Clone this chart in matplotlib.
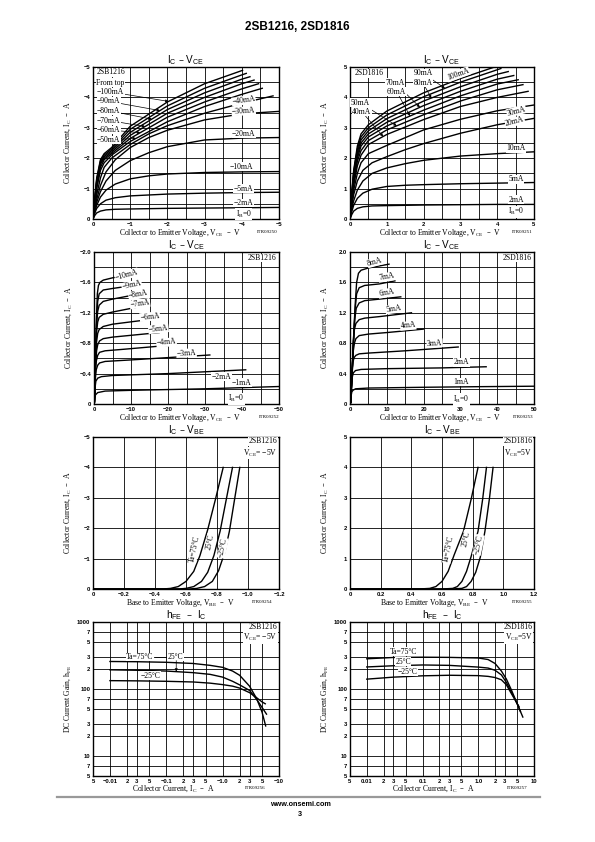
import numpy as np
import matplotlib.pyplot as plt
from matplotlib.lines import Line2D

# ---------------- data ----------------
# magnitudes are stored; the 2SB1216 (PNP) panels are drawn negative

# 2SB1216  Ic - Vce, Ib = 2 ... 100 mA
p1_ib = ['2', '5', '10', '20', '30', '40', '50', '60', '70', '80', '90', '100']
p1_v = [
    [0, 0.05, 0.1, 0.2, 0.35, 0.6, 1, 2, 3, 4, 5],
    [0, 0.05, 0.1, 0.2, 0.35, 0.6, 1, 2, 3, 4, 5],
    [0, 0.05, 0.1, 0.2, 0.35, 0.6, 1, 1.5, 2, 3, 4, 5],
    [0, 0.05, 0.1, 0.2, 0.35, 0.6, 1, 1.5, 2, 3, 4, 5],
    [0, 0.05, 0.1, 0.2, 0.35, 0.6, 1, 1.5, 2, 3, 4, 5],
    [0, 0.05, 0.1, 0.2, 0.3, 0.5, 1, 1.5, 2, 3, 4, 4.84],
    [0, 0.05, 0.1, 0.2, 0.3, 0.5, 1, 2, 3, 4, 4.55],
    [0, 0.05, 0.1, 0.2, 0.3, 0.5, 1, 2, 3, 4, 4.45],
    [0, 0.05, 0.1, 0.2, 0.3, 0.5, 1, 2, 3, 4, 4.33],
    [0, 0.05, 0.1, 0.2, 0.3, 0.5, 1, 2, 3, 4, 4.22],
    [0, 0.05, 0.1, 0.2, 0.3, 0.5, 1, 2, 3, 4, 4.12],
    [0, 0.05, 0.1, 0.2, 0.3, 0.5, 1, 2, 3, 4.02],
]
p1_i = [
    [0, 0.12, 0.2, 0.26, 0.3, 0.32, 0.33, 0.35, 0.36, 0.37, 0.38],
    [0, 0.2, 0.35, 0.5, 0.62, 0.7, 0.76, 0.82, 0.85, 0.87, 0.88],
    [0, 0.25, 0.45, 0.72, 0.95, 1.15, 1.32, 1.42, 1.48, 1.53, 1.55, 1.56],
    [0, 0.3, 0.55, 0.9, 1.25, 1.6, 1.92, 2.18, 2.38, 2.6, 2.66, 2.68],
    [0, 0.35, 0.65, 1.1, 1.55, 1.95, 2.35, 2.68, 2.92, 3.26, 3.46, 3.54],
    [0, 0.4, 0.8, 1.35, 1.7, 2.0, 2.45, 2.8, 3.07, 3.48, 3.81, 4.05],
    [0, 0.5, 1.0, 1.6, 1.85, 2.1, 2.55, 3.2, 3.7, 4.1, 4.3],
    [0, 0.55, 1.1, 1.7, 1.95, 2.15, 2.65, 3.35, 3.85, 4.28, 4.45],
    [0, 0.6, 1.2, 1.8, 2.0, 2.2, 2.75, 3.48, 4.0, 4.45, 4.57],
    [0, 0.65, 1.25, 1.85, 2.05, 2.25, 2.85, 3.6, 4.15, 4.6, 4.68],
    [0, 0.7, 1.3, 1.9, 2.1, 2.3, 2.95, 3.72, 4.3, 4.74, 4.79],
    [0, 0.75, 1.35, 1.95, 2.15, 2.35, 3.05, 3.85, 4.45, 4.89],
]

# 2SD1816  Ic - Vce, Ib = 2 ... 100 mA
p2_ib = ['2', '5', '10', '20', '30', '40', '50', '60', '70', '80', '90', '100']
p2_v = [
    [0, 0.05, 0.1, 0.2, 0.35, 0.6, 1, 2, 3, 4, 5],
    [0, 0.05, 0.1, 0.2, 0.35, 0.6, 1, 1.5, 2, 3, 4, 5],
    [0, 0.05, 0.1, 0.2, 0.35, 0.6, 1, 1.5, 2, 3, 4, 5],
    [0, 0.05, 0.1, 0.2, 0.35, 0.6, 1, 1.5, 2, 3, 4, 5],
    [0, 0.05, 0.1, 0.2, 0.3, 0.5, 1, 2, 3, 4, 5],
    [0, 0.05, 0.1, 0.2, 0.3, 0.5, 1, 2, 3, 4, 4.84],
    [0, 0.05, 0.1, 0.2, 0.3, 0.5, 1, 2, 3, 4, 4.7],
    [0, 0.05, 0.1, 0.2, 0.3, 0.5, 1, 2, 3, 4, 4.57],
    [0, 0.05, 0.1, 0.2, 0.3, 0.5, 1, 2, 3, 4, 4.45],
    [0, 0.05, 0.1, 0.2, 0.3, 0.5, 1, 2, 3, 4, 4.3],
    [0, 0.05, 0.1, 0.2, 0.3, 0.5, 1, 2, 3, 4.1],
    [0, 0.05, 0.1, 0.2, 0.3, 0.5, 1, 2, 3, 3.93],
]
p2_i = [
    [0, 0.15, 0.26, 0.35, 0.4, 0.43, 0.44, 0.46, 0.47, 0.48, 0.48],
    [0, 0.25, 0.45, 0.68, 0.85, 0.98, 1.07, 1.11, 1.13, 1.16, 1.18, 1.2],
    [0, 0.35, 0.6, 0.95, 1.25, 1.5, 1.68, 1.82, 1.93, 2.07, 2.15, 2.21],
    [0, 0.45, 0.8, 1.25, 1.6, 1.85, 2.05, 2.28, 2.48, 2.82, 3.1, 3.31],
    [0, 0.5, 0.95, 1.5, 1.85, 2.15, 2.42, 2.93, 3.28, 3.56, 3.75],
    [0, 0.6, 1.1, 1.75, 2.1, 2.45, 2.78, 3.27, 3.7, 4.0, 4.2],
    [0, 0.65, 1.2, 1.9, 2.25, 2.58, 2.93, 3.43, 3.88, 4.25, 4.42],
    [0, 0.7, 1.3, 2.0, 2.4, 2.7, 3.06, 3.58, 4.05, 4.44, 4.58],
    [0, 0.75, 1.4, 2.1, 2.5, 2.8, 3.18, 3.73, 4.2, 4.6, 4.72],
    [0, 0.8, 1.5, 2.2, 2.6, 2.9, 3.3, 3.88, 4.35, 4.76, 4.85],
    [0, 0.85, 1.55, 2.3, 2.7, 3.0, 3.42, 4.02, 4.5, 4.95],
    [0, 0.9, 1.6, 2.4, 2.8, 3.1, 3.55, 4.15, 4.62, 5.0],
]

# 2SB1216  Ic - Vce (0..50 V), Ib = 1 ... 10 mA
p3_ib = ['1', '2', '3', '4', '5', '6', '7', '8', '9', '10']
p3_v = [
    [0, 0.1, 0.2, 0.4, 1.0, 3, 10, 30, 50],
    [0, 0.1, 0.25, 0.5, 1.0, 2, 5, 20, 41],
    [0, 0.1, 0.3, 0.6, 1.0, 1.5, 3, 10, 31.3],
    [0, 0.1, 0.35, 0.6, 1.0, 1.5, 3, 8, 22.1],
    [0, 0.1, 0.4, 0.7, 1.0, 1.5, 2.5, 5, 17.6],
    [0, 0.1, 0.4, 0.7, 1.0, 1.4, 2.5, 5, 14.7],
    [0, 0.1, 0.4, 0.7, 1.0, 1.4, 2.5, 5, 13.3],
    [0, 0.1, 0.4, 0.7, 1.0, 1.4, 2.5, 5, 12.4],
    [0, 0.1, 0.4, 0.7, 1.0, 1.4, 2.5, 5, 12.0],
    [0, 0.1, 0.4, 0.7, 0.9, 1.2, 1.6, 2.5, 5, 11.5],
]
p3_i = [
    [0, 0.02, 0.08, 0.12, 0.15, 0.17, 0.18, 0.2, 0.23],
    [0, 0.02, 0.2, 0.3, 0.34, 0.36, 0.375, 0.4, 0.45],
    [0, 0.02, 0.3, 0.45, 0.51, 0.54, 0.56, 0.58, 0.645],
    [0, 0.02, 0.4, 0.56, 0.64, 0.68, 0.7, 0.72, 0.78],
    [0, 0.02, 0.5, 0.7, 0.78, 0.83, 0.86, 0.88, 0.94],
    [0, 0.02, 0.55, 0.82, 0.93, 0.98, 1.02, 1.05, 1.11],
    [0, 0.02, 0.6, 0.95, 1.08, 1.14, 1.18, 1.21, 1.29],
    [0, 0.02, 0.6, 1.05, 1.22, 1.3, 1.35, 1.38, 1.45],
    [0, 0.02, 0.6, 1.15, 1.35, 1.45, 1.5, 1.52, 1.57],
    [0, 0.02, 0.6, 1.15, 1.45, 1.56, 1.6, 1.63, 1.66, 1.72],
]

# 2SD1816  Ic - Vce (0..50 V), Ib = 1 ... 8 mA
p4_ib = ['1', '2', '3', '4', '5', '6', '7', '8']
p4_v = [
    [0, 0.2, 0.35, 0.5, 0.8, 1.5, 5, 20, 35, 50],
    [0, 0.2, 0.4, 0.6, 0.9, 1.5, 3, 10, 25, 37],
    [0, 0.2, 0.5, 0.8, 1.1, 1.6, 2.5, 5, 15, 29.4],
    [0, 0.2, 0.6, 0.9, 1.2, 1.6, 2.5, 5, 10, 19.9],
    [0, 0.2, 0.6, 0.9, 1.2, 1.6, 2.5, 4, 8, 16.7],
    [0, 0.2, 0.6, 1.0, 1.3, 1.7, 2.5, 4, 8, 13.8],
    [0, 0.2, 0.6, 1.0, 1.4, 1.8, 2.5, 4, 8, 12.2],
    [0, 0.2, 0.6, 1.0, 1.4, 1.8, 2.3, 3, 5, 10.6],
]
p4_i = [
    [0, 0.02, 0.12, 0.16, 0.18, 0.2, 0.21, 0.22, 0.228, 0.234],
    [0, 0.02, 0.22, 0.35, 0.41, 0.44, 0.455, 0.465, 0.475, 0.49],
    [0, 0.02, 0.35, 0.55, 0.61, 0.64, 0.66, 0.67, 0.7, 0.75],
    [0, 0.02, 0.45, 0.7, 0.8, 0.86, 0.9, 0.92, 0.94, 0.985],
    [0, 0.02, 0.45, 0.8, 0.98, 1.06, 1.11, 1.13, 1.15, 1.2],
    [0, 0.02, 0.45, 0.88, 1.12, 1.26, 1.33, 1.36, 1.38, 1.41],
    [0, 0.02, 0.45, 0.9, 1.25, 1.45, 1.53, 1.56, 1.58, 1.62],
    [0, 0.02, 0.45, 0.9, 1.3, 1.6, 1.72, 1.76, 1.79, 1.84],
]

# Ic - Vbe, Ta = 75, 25, -25 C
temps = ['75', '25', '-25']
p5_v = [
    [0, 0.45, 0.5, 0.55, 0.6, 0.65, 0.69, 0.74, 0.79, 0.84],
    [0, 0.55, 0.6, 0.65, 0.7, 0.74, 0.78, 0.82, 0.86, 0.9],
    [0, 0.62, 0.67, 0.72, 0.77, 0.81, 0.85, 0.88, 0.915, 0.947],
]
p5_i = [
    [0, 0, 0.02, 0.08, 0.25, 0.58, 1.1, 1.95, 2.95, 4.0],
    [0, 0, 0.02, 0.08, 0.25, 0.55, 1.1, 1.9, 2.95, 4.0],
    [0, 0, 0.02, 0.08, 0.25, 0.6, 1.2, 1.9, 3.0, 4.0],
]
p6_v = [
    [0, 0.45, 0.52, 0.56, 0.6, 0.64, 0.68, 0.74, 0.79, 0.835],
    [0, 0.6, 0.67, 0.7, 0.73, 0.76, 0.79, 0.835, 0.865, 0.89],
    [0, 0.66, 0.73, 0.76, 0.79, 0.82, 0.85, 0.88, 0.91, 0.933],
]
p6_i = [
    [0, 0, 0.02, 0.08, 0.25, 0.58, 1.13, 1.9, 2.95, 4.0],
    [0, 0, 0.02, 0.08, 0.25, 0.58, 1.07, 1.9, 2.95, 4.0],
    [0, 0, 0.02, 0.08, 0.25, 0.55, 1.05, 1.9, 3.0, 4.0],
]

# hFE - Ic
p7_ic = [
    [0.01, 0.03, 0.1, 0.3, 0.6, 1.0, 1.5, 2.0, 3.0, 4.0, 5.0, 5.8],
    [0.01, 0.03, 0.1, 0.3, 0.6, 1.0, 1.5, 2.0, 3.0, 4.0, 5.0, 6.0],
    [0.01, 0.03, 0.1, 0.3, 0.6, 1.0, 1.5, 2.0, 3.0, 4.0, 5.0, 5.7],
]
p7_h = [
    [257, 255, 250, 240, 225, 210, 185, 160, 110, 72, 45, 28],
    [193, 190, 185, 175, 165, 150, 130, 115, 95, 70, 53, 42],
    [133, 132, 130, 127, 122, 116, 110, 103, 88, 74, 64, 60],
]
p8_ic = [
    [0.01, 0.03, 0.1, 0.3, 1.0, 1.5, 2.0, 2.6, 3.2, 3.9, 4.8, 5.7],
    [0.01, 0.03, 0.1, 0.3, 1.0, 1.5, 2.0, 2.6, 3.2, 3.9, 5.0, 6.3],
    [0.01, 0.03, 0.1, 0.3, 1.0, 1.5, 2.0, 2.6, 3.2, 3.9, 4.6, 5.4],
]
p8_h = [
    [282, 295, 298, 296, 290, 275, 240, 185, 140, 98, 65, 46],
    [213, 222, 228, 225, 212, 205, 190, 162, 125, 91, 60, 38],
    [140, 150, 157, 160, 158, 154, 148, 137, 115, 86, 68, 54],
]

log_ticks = [0.005, 0.01, 0.02, 0.03, 0.05, 0.1, 0.2, 0.3, 0.5, 1, 2, 3, 5, 10]
log_ticklabels_b = ['5', '−0.01', '2', '3', '5', '−0.1', '2', '3', '5', '−1.0', '2', '3', '5', '−10']
log_ticklabels_d = ['5', '0.01', '2', '3', '5', '0.1', '2', '3', '5', '1.0', '2', '3', '5', '10']
hfe_ticks = [5, 7, 10, 20, 30, 50, 70, 100, 200, 300, 500, 700, 1000]
hfe_ticklabels = ['5', '7', '10', '2', '3', '5', '7', '100', '2', '3', '5', '7', '1000']

# ---------------- drawing ----------------
W, H = 595, 842
SERIF = 'Liberation Serif'
SANS = 'Liberation Sans'
plt.rcParams['font.family'] = SANS

fig = plt.figure(figsize=(W / 100, H / 100), dpi=100)


def px_axes(l, t, r, b):
    return fig.add_axes([l / W, 1 - b / H, (r - l) / W, (b - t) / H])


def ftext(x, y, s, **kw):
    fig.text(x / W, 1 - y / H, s, **kw)


WB = dict(boxstyle='square,pad=0.05', fc='white', ec='none')


def note(ax, x, y, s, **kw):
    kw.setdefault('ha', 'center')
    kw.setdefault('va', 'center')
    ax.text(x, y, s, fontsize=5.5, family=SERIF, bbox=WB, **kw)


def frame(ax, title, xt, xl, yt, yl, xm=(), ym=()):
    ax.set_xticks(xt, xl)
    ax.set_yticks(yt, yl)
    ax.set_xticks(list(xm), minor=True)
    ax.set_yticks(list(ym), minor=True)
    ax.set_xlim(xt[0], xt[-1])
    ax.set_ylim(yt[0], yt[-1])
    ax.grid(True, which='both', color='black', lw=0.6)
    ax.tick_params(which='both', length=0, labelsize=4.2, pad=2)
    for lab in ax.get_xticklabels() + ax.get_yticklabels():
        lab.set_fontweight('bold')
    for s in ax.spines.values():
        s.set_linewidth(1.0)
    ax.set_title(title, fontsize=7.2, family=SANS, pad=1.5)


def ylab(ax, s):
    ax.set_ylabel(s, fontsize=5.5, family=SERIF)
    ax.yaxis.set_label_coords(-0.108, 0.5)


t_ice = r'I$_\mathregular{C}$ – V$_\mathregular{CE}$'
t_ibe = r'I$_\mathregular{C}$ – V$_\mathregular{BE}$'
t_hfe = r'h$_\mathregular{FE}$  –  I$_\mathregular{C}$'
lab_ic = r'Collector Current, I$_\mathregular{C}$  –  A'
lab_vce = r'Collector to Emitter Voltage, V$_\mathregular{CE}$  –  V'
lab_vbe = r'Base to Emitter Voltage, V$_\mathregular{BE}$  –  V'
lab_icx = r'Collector Current, I$_\mathregular{C}$  –  A'
lab_hfe = r'DC Current Gain, h$_\mathregular{FE}$'
ib0 = r'I$_\mathregular{B}$=0'
CL = dict(color='black', lw=1.0)
ARW = dict(arrowstyle='-|>', lw=0.5, color='black', mutation_scale=4,
           shrinkA=0, shrinkB=0)

# ---- panel 1 : 2SB1216 Ic-Vce ----
ax = px_axes(93, 67, 279, 219)
for v, i in zip(p1_v, p1_i):
    ax.plot(-np.array(v), -np.array(i), **CL)
frame(ax, t_ice, [0, -1, -2, -3, -4, -5], ['0', '−1', '−2', '−3', '−4', '−5'],
      [0, -1, -2, -3, -4, -5], ['0', '−1', '−2', '−3', '−4', '−5'],
      [-0.5, -1.5, -2.5, -3.5, -4.5], [-0.5, -1.5, -2.5, -3.5, -4.5])
ylab(ax, lab_ic)
note(ax, -0.09, -4.82, '2SB1216', ha='left')
note(ax, -0.09, -4.49, 'From top', ha='left')
for k, (ty, tx) in enumerate([(4.18, 2.03), (3.87, 1.8), (3.56, 1.58),
                              (3.24, 1.4), (2.93, 1.27), (2.6, 1.16)]):
    n = len(p1_ib) - 1 - k
    ax.annotate('−' + p1_ib[n] + 'mA', xy=(-tx, -np.interp(tx, p1_v[n], p1_i[n])),
                xytext=(-0.11, -ty), ha='left', va='center', fontsize=5.5,
                family=SERIF, bbox=WB, arrowprops=ARW)
note(ax, -4.05, -3.9, '−40mA', rotation=8)
note(ax, -4.05, -3.55, '−30mA', rotation=4)
note(ax, -4.05, -2.8, '−20mA')
note(ax, -4.0, -1.72, '−10mA')
note(ax, -4.05, -1.0, '−5mA')
note(ax, -4.05, -0.53, '−2mA')
note(ax, -4.05, -0.17, ib0)

# ---- panel 2 : 2SD1816 Ic-Vce ----
ax = px_axes(350, 67, 534, 219)
for v, i in zip(p2_v, p2_i):
    ax.plot(v, i, **CL)
frame(ax, t_ice, [0, 1, 2, 3, 4, 5], ['0', '1', '2', '3', '4', '5'],
      [0, 1, 2, 3, 4, 5], ['0', '1', '2', '3', '4', '5'],
      [0.5, 1.5, 2.5, 3.5, 4.5], [0.5, 1.5, 2.5, 3.5, 4.5])
ylab(ax, lab_ic)
note(ax, 0.12, 4.79, '2SD1816', ha='left')
for n, (x0, y0, tx) in zip([10, 8, 9, 7, 6, 5],
                           [(1.99, 4.79, 2.58), (1.22, 4.48, 1.9), (1.98, 4.48, 2.21),
                            (1.27, 4.19, 1.63), (0.27, 3.83, 1.27), (0.32, 3.53, 0.9)]):
    ax.annotate(p2_ib[n] + 'mA', xy=(tx, np.interp(tx, p2_v[n], p2_i[n])),
                xytext=(x0, y0), ha='center', va='center', fontsize=5.5,
                family=SERIF, bbox=WB, arrowprops=ARW)
note(ax, 2.94, 4.76, '100mA', rotation=20)
note(ax, 4.52, 3.55, '30mA', rotation=15)
note(ax, 4.48, 3.2, '20mA', rotation=15)
note(ax, 4.52, 2.33, '10mA')
note(ax, 4.52, 1.3, '5mA')
note(ax, 4.52, 0.63, '2mA')
note(ax, 4.52, 0.24, ib0)

# ---- panel 3 : 2SB1216 Ic-Vce 50 V ----
ax = px_axes(94, 252, 279, 404)
for v, i in zip(p3_v, p3_i):
    ax.plot(-np.array(v), -np.array(i), **CL)
frame(ax, t_ice, [0, -10, -20, -30, -40, -50], ['0', '−10', '−20', '−30', '−40', '−50'],
      [0, -0.4, -0.8, -1.2, -1.6, -2.0], ['0', '−0.4', '−0.8', '−1.2', '−1.6', '−2.0'],
      [-5, -15, -25, -35, -45], [-0.2, -0.6, -1.0, -1.4, -1.8])
ylab(ax, lab_ic)
note(ax, -49.3, -1.92, '2SB1216', ha='right')
for (x, y, r), n in zip([(8.8, 1.7, 15), (10.2, 1.56, 12), (12.0, 1.44, 10),
                         (12.4, 1.32, 8), (15.1, 1.15, 6), (17.4, 0.99, 6),
                         (19.6, 0.81, 5), (25.0, 0.67, 3), (34.4, 0.36, 0),
                         (39.8, 0.28, 0)], range(9, -1, -1)):
    note(ax, -x, -y, '−' + p3_ib[n] + 'mA', rotation=r)
note(ax, -38.5, -0.07, ib0)

# ---- panel 4 : 2SD1816 Ic-Vce 50 V ----
ax = px_axes(350, 252, 534, 404)
for v, i in zip(p4_v, p4_i):
    ax.plot(v, i, **CL)
frame(ax, t_ice, [0, 10, 20, 30, 40, 50], ['0', '10', '20', '30', '40', '50'],
      [0, 0.4, 0.8, 1.2, 1.6, 2.0], ['0', '0.4', '0.8', '1.2', '1.6', '2.0'],
      [5, 15, 25, 35, 45], [0.2, 0.6, 1.0, 1.4, 1.8])
ylab(ax, lab_ic)
note(ax, 49.3, 1.92, '2SD1816', ha='right')
for (x, y, r), n in zip([(6.8, 1.87, 15), (9.9, 1.67, 10), (9.9, 1.46, 10),
                         (11.8, 1.25, 8), (15.8, 1.03, 5), (23.0, 0.8, 3),
                         (30.3, 0.55, 0), (30.3, 0.29, 0)], range(7, -1, -1)):
    note(ax, x, y, p4_ib[n] + 'mA', rotation=r)
note(ax, 30.3, 0.06, ib0)

# ---- panel 5 : 2SB1216 Ic-Vbe ----
ax = px_axes(93, 437, 279, 589)
for v, i in zip(p5_v, p5_i):
    ax.plot(-np.array(v), -np.array(i), **CL)
frame(ax, t_ibe, [0, -0.2, -0.4, -0.6, -0.8, -1.0, -1.2],
      ['0', '−0.2', '−0.4', '−0.6', '−0.8', '−1.0', '−1.2'],
      [0, -1, -2, -3, -4, -5], ['0', '−1', '−2', '−3', '−4', '−5'])
ylab(ax, lab_ic)
note(ax, -1.19, -4.86, '2SB1216', ha='right')
note(ax, -1.19, -4.47, r'V$_\mathregular{CE}$= −5V', ha='right')
note(ax, -0.655, -1.3, 'Ta=75°C', rotation=78)
note(ax, -0.755, -1.55, '25°C', rotation=78)
note(ax, -0.835, -1.35, '−25°C', rotation=78)

# ---- panel 6 : 2SD1816 Ic-Vbe ----
ax = px_axes(350, 437, 534, 589)
for v, i in zip(p6_v, p6_i):
    ax.plot(v, i, **CL)
frame(ax, t_ibe, [0, 0.2, 0.4, 0.6, 0.8, 1.0, 1.2],
      ['0', '0.2', '0.4', '0.6', '0.8', '1.0', '1.2'],
      [0, 1, 2, 3, 4, 5], ['0', '1', '2', '3', '4', '5'])
ylab(ax, lab_ic)
note(ax, 1.19, 4.86, '2SD1816', ha='right')
note(ax, 1.19, 4.47, r'V$_\mathregular{CE}$=5V', ha='right')
note(ax, 0.645, 1.3, 'Ta=75°C', rotation=78)
note(ax, 0.76, 1.65, '25°C', rotation=78)
note(ax, 0.838, 1.45, '−25°C', rotation=78)

# ---- panel 7 : 2SB1216 hFE-Ic ----
ax = px_axes(93, 622, 279, 776)
for c, h in zip(p7_ic, p7_h):
    ax.plot(c, h, **CL)
ax.set_xscale('log')
ax.set_yscale('log')
frame(ax, t_hfe, log_ticks, log_ticklabels_b, hfe_ticks, hfe_ticklabels)
ax.minorticks_off()
ylab(ax, lab_hfe)
note(ax, 9.5, 830, '2SB1216', ha='right')
note(ax, 9.5, 585, r'V$_\mathregular{CE}$= −5V', ha='right')
note(ax, 0.034, 300, 'Ta=75°C')
note(ax, 0.145, 300, '25°C')
ax.plot([0.062, 0.11], [300, 300], color='black', lw=0.5)
ax.annotate('', xy=(0.15, np.interp(np.log10(0.15), np.log10(p7_ic[1]), p7_h[1])),
            xytext=(0.15, 265), arrowprops=ARW)
note(ax, 0.052, 157, '−25°C')

# ---- panel 8 : 2SD1816 hFE-Ic ----
ax = px_axes(350, 622, 534, 776)
for c, h in zip(p8_ic, p8_h):
    ax.plot(c, h, **CL)
ax.set_xscale('log')
ax.set_yscale('log')
frame(ax, t_hfe, log_ticks, log_ticklabels_d, hfe_ticks, hfe_ticklabels)
ax.minorticks_off()
ylab(ax, lab_hfe)
note(ax, 9.5, 830, '2SD1816', ha='right')
note(ax, 9.5, 585, r'V$_\mathregular{CE}$=5V', ha='right')
note(ax, 0.045, 360, 'Ta=75°C')
note(ax, 0.045, 255, '25°C')
note(ax, 0.055, 182, '−25°C')

# ---- x labels and drawing numbers ----
xl = [(180, 233, lab_vce, 257, 'ITR09250'), (440, 233, lab_vce, 512, 'ITR09251'),
      (180, 418, lab_vce, 259, 'ITR09252'), (440, 418, lab_vce, 513, 'ITR09253'),
      (180, 603, lab_vbe, 252, 'ITR09254'), (434, 603, lab_vbe, 512, 'ITR09255'),
      (173, 789, lab_icx, 245, 'ITR09256'), (433, 789, lab_icx, 507, 'ITR09257')]
for x, y, s, xi, code in xl:
    ftext(x, y, s, fontsize=5.5, family=SERIF, ha='center', va='center')
    ftext(xi, y - 1, code, fontsize=3.6, family=SERIF, ha='left', va='center')

# ---- page header / footer ----
ftext(297, 27, '2SB1216, 2SD1816', fontsize=8.5, fontweight='bold', ha='center', va='center')
fig.add_artist(Line2D([57 / W, 540 / W], [1 - 797 / H] * 2, color='0.6', lw=1.6))
ftext(300, 805, 'www.onsemi.com', fontsize=5.2, fontweight='bold', ha='center', va='center')
ftext(300, 815, '3', fontsize=5.2, fontweight='bold', ha='center', va='center')

fig.savefig('out.png', dpi=100)
